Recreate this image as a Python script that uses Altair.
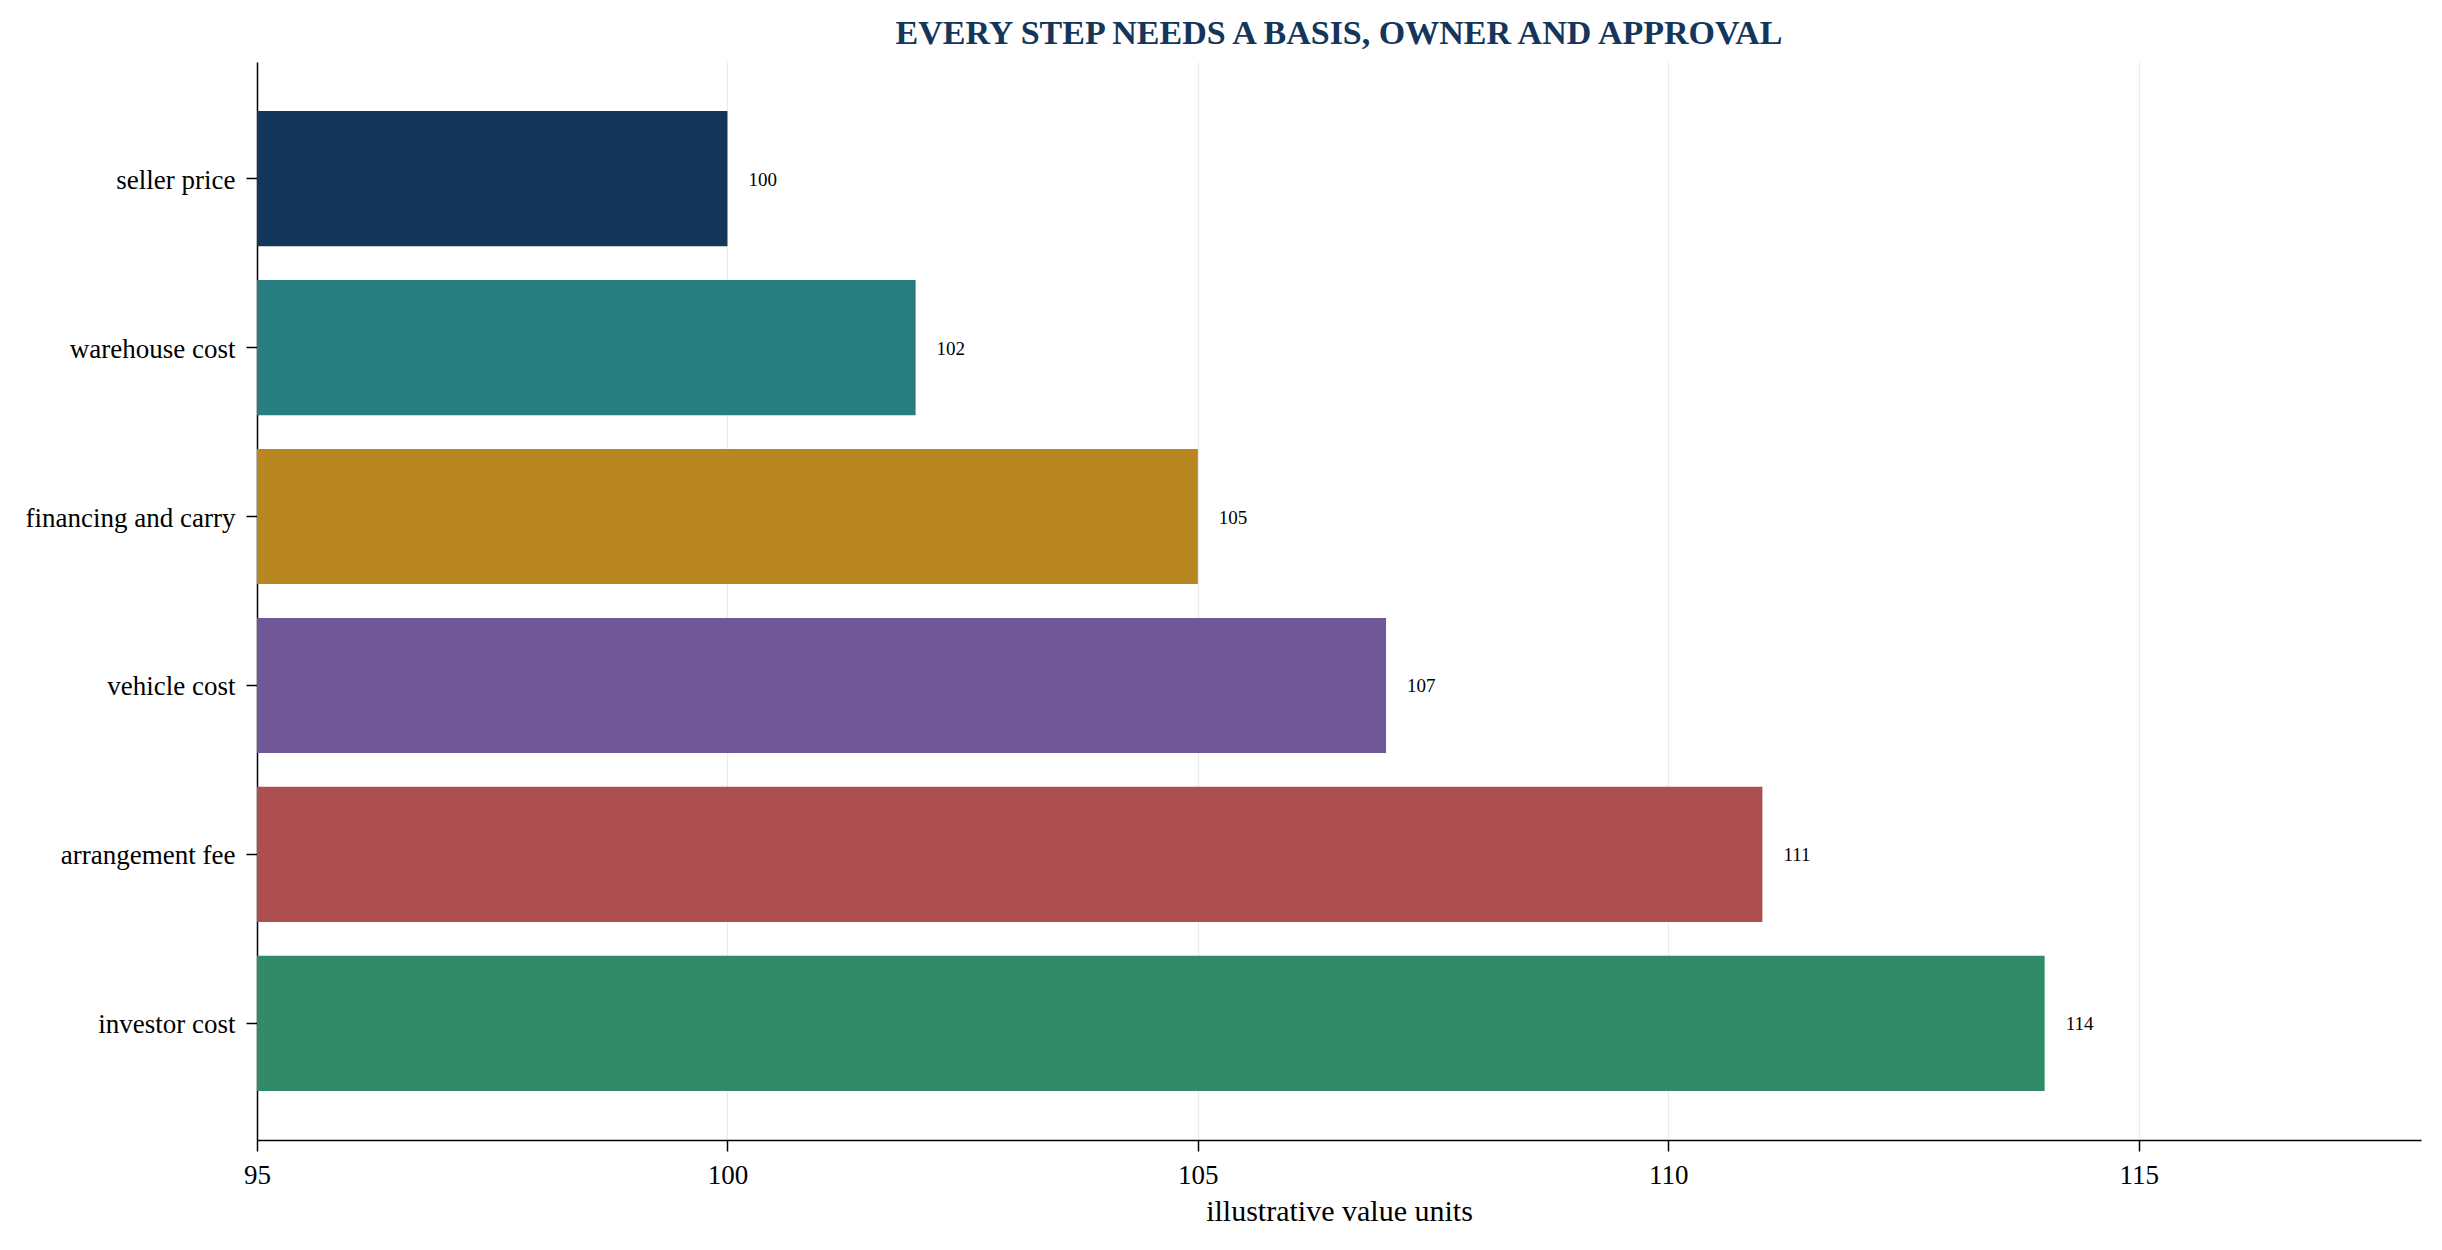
import altair as alt
import pandas as pd

categories = ["seller price", "warehouse cost", "financing and carry",
              "vehicle cost", "arrangement fee", "investor cost"]
values = [100, 102, 105, 107, 111, 114]
colors = ["#14365a", "#287d81", "#b88720", "#705898", "#ad4f4e", "#318b69"]
x_ticks = [95, 100, 105, 110, 115]

df = pd.DataFrame({"step": categories, "value": values, "label": [str(v) for v in values]})

FONT = "Liberation Serif"

x_enc = alt.X("value:Q",
              scale=alt.Scale(domain=[95, 118], nice=False, zero=False),
              axis=alt.Axis(values=x_ticks, format="d", title="illustrative value units",
                            grid=True, gridColor="#ebebeb", gridWidth=1.2,
                            domainColor="black", domainWidth=1.5,
                            tickColor="black", tickWidth=1.5, tickSize=11,
                            labelPadding=11, labelFontSize=27, labelFont=FONT,
                            labelColor="black", titleFont=FONT, titleFontSize=30,
                            titleFontWeight="normal", titleColor="black",
                            titlePadding=8, labelFlush=False))
y_enc = alt.Y("step:N", sort=categories,
              scale=alt.Scale(paddingInner=0.2, paddingOuter=0.29),
              axis=alt.Axis(title=None, grid=False, domainColor="black", domainWidth=1.5,
                            tickColor="black", tickWidth=1.5, tickSize=11,
                            labelPadding=11, labelFontSize=27, labelFont=FONT,
                            labelColor="black", labelLimit=600, labelOffset=2))

bars = alt.Chart(df).mark_bar(clip=True).encode(
    x=x_enc,
    x2=alt.datum(95),
    y=y_enc,
    color=alt.Color("step:N", scale=alt.Scale(domain=categories, range=colors), legend=None),
)

texts = alt.Chart(df).mark_text(align="left", baseline="middle", dx=21, dy=1,
                                fontSize=19, font=FONT, color="black").encode(
    x="value:Q", y=alt.Y("step:N", sort=categories), text="label:N")

chart = alt.layer(bars, texts).properties(
    width=2164, height=1078,
    autosize=alt.AutoSizeParams(type="none"),
    padding={"left": 249, "top": 54, "right": 13, "bottom": 102},
    title=alt.TitleParams("EVERY STEP NEEDS A BASIS, OWNER AND APPROVAL",
                          font=FONT, fontSize=34, fontWeight="bold",
                          color="#14365a", anchor="middle", offset=11),
).configure(background="white").configure_view(stroke=None)

chart.save("out.html", embed_options={"renderer": "svg", "actions": False})
